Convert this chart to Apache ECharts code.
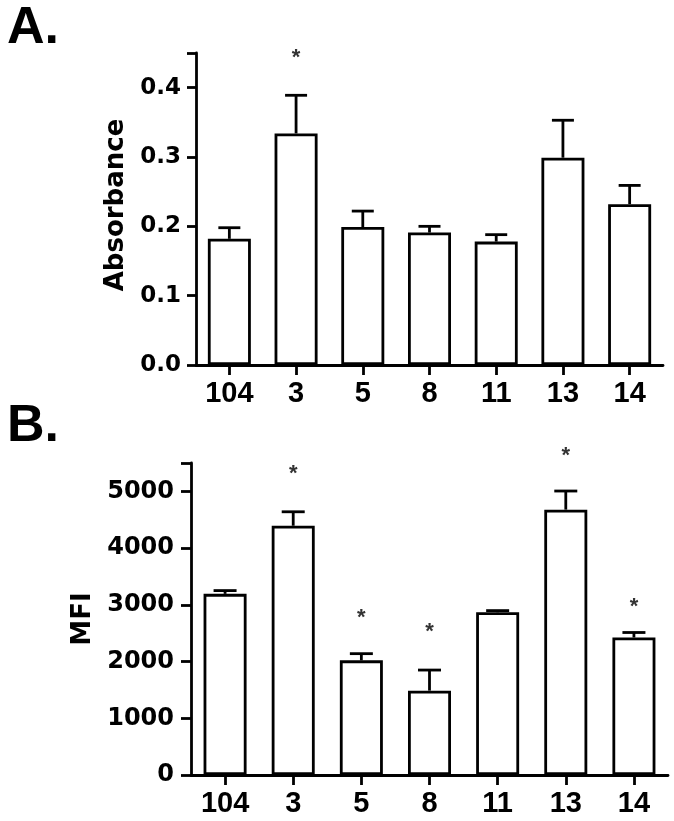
<!DOCTYPE html>
<html>
<head>
<meta charset="utf-8">
<script src="https://cdn.jsdelivr.net/npm/echarts@6/dist/echarts.min.js"></script>
<style>
html,body{margin:0;padding:0;background:#fff;}
#chart{width:674px;height:821px;}
</style>
</head>
<body>
<div id="chart"></div>
<script>
const categories = ['104', '3', '5', '8', '11', '13', '14'];

// Panel A: absorbance (mean and SEM)
const absMean = [0.182, 0.334, 0.199, 0.191, 0.178, 0.299, 0.232];
const absSem  = [0.016, 0.055, 0.023, 0.009, 0.010, 0.054, 0.027];
const absStarY = [null, 0.443, null, null, null, null, null];
const absTicks = [0, 0.1, 0.2, 0.3, 0.4];

// Panel B: MFI (mean and SEM)
const mfiMean = [3193, 4394, 2021, 1487, 2869, 4678, 2424];
const mfiSem  = [58, 246, 118, 363, 29, 328, 88];
const mfiStarY = [null, 5300, 2760, 2520, null, 5625, 2960];
const mfiTicks = [0, 1000, 2000, 3000, 4000, 5000];

const chart = echarts.init(document.getElementById('chart'), null, {renderer: 'canvas'});

function errData(mean, sem) {
  return mean.map((m, i) => [i, m, m + sem[i]]);
}
function starData(ys) {
  const out = [];
  ys.forEach((y, i) => { if (y !== null) out.push([i, y]); });
  return out;
}
function errRender(cap) {
  return function (params, api) {
    const i = api.value(0);
    const p0 = api.coord([i, api.value(1)]);
    const p1 = api.coord([i, api.value(2)]);
    const st = {stroke: '#000', lineWidth: 2.8};
    return {
      type: 'group',
      children: [
        {type: 'line', shape: {x1: p0[0], y1: p0[1], x2: p1[0], y2: p1[1]}, style: st},
        {type: 'line', shape: {x1: p1[0] - cap, y1: p1[1], x2: p1[0] + cap, y2: p1[1]}, style: st}
      ]
    };
  };
}
function starRender(params, api) {
  const p = api.coord([api.value(0), api.value(1)]);
  return {
    type: 'text',
    x: p[0], y: p[1],
    style: {text: '*', fill: '#333', font: 'bold 22px "Liberation Sans"', align: 'center', verticalAlign: 'middle'}
  };
}

const yLabel = (size, margin) => ({color: '#000', fontFamily: 'DejaVu Sans', fontWeight: 'bold', fontSize: size, margin: margin});
const xLabel = {color: '#000', fontFamily: 'Liberation Sans', fontWeight: 'bold', fontSize: 29, margin: 14};
const axLine = {show: true, lineStyle: {color: '#000', width: 2.8}};
const axTick = (len) => ({show: true, length: len, lineStyle: {color: '#000', width: 2.8}});
const nameStyle = {color: '#000', fontFamily: 'DejaVu Sans', fontWeight: 'bold', fontSize: 26};

const option = {
  animation: false,
  backgroundColor: '#fff',
  graphic: [
    {type: 'text', left: 7, top: 3, style: {text: 'A.', font: 'bold 52px "Liberation Sans"', fill: '#000'}},
    {type: 'text', left: 7, top: 401, style: {text: 'B.', font: 'bold 52px "Liberation Sans"', fill: '#000'}}
  ],
  grid: [
    {left: 196, top: 53, width: 467, height: 312},
    {left: 191, top: 463, width: 477, height: 312}
  ],
  xAxis: [
    {type: 'category', gridIndex: 0, data: categories, boundaryGap: true,
     axisLine: axLine, axisTick: Object.assign(axTick(10), {alignWithLabel: true}), axisLabel: xLabel, splitLine: {show: false}},
    {type: 'category', gridIndex: 1, data: categories, boundaryGap: true,
     axisLine: axLine, axisTick: Object.assign(axTick(10), {alignWithLabel: true}), axisLabel: xLabel, splitLine: {show: false}}
  ],
  yAxis: [
    {type: 'value', gridIndex: 0, min: 0, max: 0.45, interval: 0.1,
     name: 'Absorbance', nameLocation: 'middle', nameGap: 67, nameRotate: 90,
     nameTextStyle: Object.assign({}, nameStyle, {padding: [0, 0, 0, 8]}),
     axisLine: axLine, axisTick: axTick(9), splitLine: {show: false},
     axisLabel: Object.assign(yLabel(23, 15), {formatter: v => absTicks.indexOf(+v.toFixed(1)) >= 0 ? v.toFixed(1) : ''})},
    {type: 'value', gridIndex: 1, min: 0, max: 5500, interval: 1000,
     name: 'MFI', nameLocation: 'middle', nameGap: 91, nameRotate: 90,
     nameTextStyle: nameStyle,
     axisLine: axLine, axisTick: axTick(10), splitLine: {show: false},
     axisLabel: Object.assign(yLabel(24, 17), {formatter: v => mfiTicks.indexOf(v) >= 0 ? String(v) : ''})}
  ],
  series: [
    {type: 'bar', xAxisIndex: 0, yAxisIndex: 0, data: absMean, barWidth: 43,
     itemStyle: {color: '#fff', borderColor: '#000', borderWidth: 2.8}, z: 2},
    {type: 'custom', xAxisIndex: 0, yAxisIndex: 0, data: errData(absMean, absSem), renderItem: errRender(11), z: 3},
    {type: 'custom', xAxisIndex: 0, yAxisIndex: 0, data: starData(absStarY), renderItem: starRender, z: 4},
    {type: 'bar', xAxisIndex: 1, yAxisIndex: 1, data: mfiMean, barWidth: 43,
     itemStyle: {color: '#fff', borderColor: '#000', borderWidth: 2.8}, z: 2},
    {type: 'custom', xAxisIndex: 1, yAxisIndex: 1, data: errData(mfiMean, mfiSem), renderItem: errRender(11.5), z: 3},
    {type: 'custom', xAxisIndex: 1, yAxisIndex: 1, data: starData(mfiStarY), renderItem: starRender, z: 4}
  ]
};
chart.setOption(option);
</script>
</body>
</html>
